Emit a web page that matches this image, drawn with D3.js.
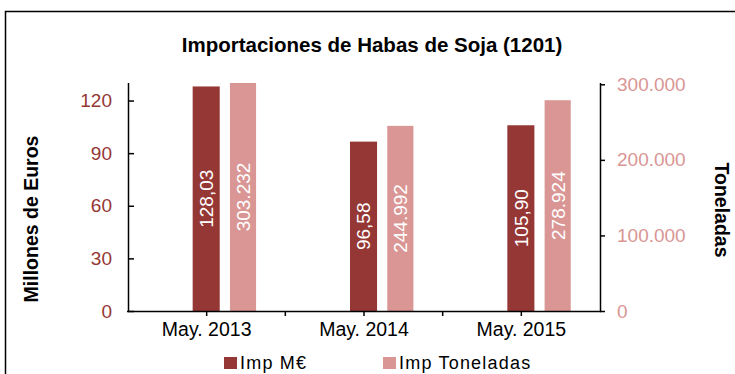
<!DOCTYPE html>
<html>
<head>
<meta charset="utf-8">
<script src="https://cdn.jsdelivr.net/npm/d3@7"></script>
<style>
  html, body { margin: 0; padding: 0; background: #fff; }
  svg { display: block; font-family: "Liberation Sans", Arial, sans-serif; }
</style>
</head>
<body>
<svg id="chart" width="735" height="374"></svg>
<script>
// Imports of soybeans (1201), May of each year
const categories = ["May. 2013", "May. 2014", "May. 2015"];
const impEuros = [128.03, 96.58, 105.90];          // millions of euros
const impToneladas = [303232, 244992, 278924];     // tonnes
const euroTicks = [0, 30, 60, 90, 120];
const tonTicks = [0, 100000, 200000, 300000];
const seriesNames = ["Imp M€", "Imp Toneladas"];

const darkRed = "#953735";
const lightRed = "#D99694";

const svg = d3.select("#chart");

// outer frame
svg.append("rect")
  .attr("x", 5.5).attr("y", 11.5)
  .attr("width", 800).attr("height", 400)
  .attr("fill", "none").attr("stroke", "#000").attr("stroke-width", 1.5);

const plot = { left: 128, right: 600, top: 83, bottom: 311 };

const x = d3.scaleBand().domain(categories).range([plot.left, plot.right]).padding(0);
const yL = d3.scaleLinear().domain([0, 130]).range([plot.bottom, plot.top]);
const yR = d3.scaleLinear().domain([0, 301700]).range([plot.bottom, plot.top]).clamp(true);

const bw = x.bandwidth();
const center = c => x(c) + bw / 2;
const darkX0 = -0.089 * bw, darkW = 0.172 * bw;
const lightX0 = 0.148 * bw, lightW = 0.166 * bw;

const esNum = d3.formatLocale({ decimal: ",", thousands: ".", grouping: [3], currency: ["", "€"] });
const fmtEuro = esNum.format(",.2f");
const fmtTon = esNum.format(",.0f");

// bars: millions of euros (left axis)
svg.append("g").selectAll("rect")
  .data(categories)
  .join("rect")
  .attr("x", (c) => center(c) + darkX0)
  .attr("width", darkW)
  .attr("y", (c, i) => yL(impEuros[i]))
  .attr("height", (c, i) => yL(0) - yL(impEuros[i]))
  .attr("fill", darkRed);

// bars: tonnes (right axis)
svg.append("g").selectAll("rect")
  .data(categories)
  .join("rect")
  .attr("x", (c) => center(c) + lightX0)
  .attr("width", lightW)
  .attr("y", (c, i) => yR(impToneladas[i]))
  .attr("height", (c, i) => yR(0) - yR(impToneladas[i]))
  .attr("fill", lightRed);

// value labels, rotated, centred in each bar
const labelFont = 19;
svg.append("g").selectAll("text")
  .data(categories)
  .join("text")
  .attr("transform", (c, i) => {
    const cx = center(c) + darkX0 + darkW / 2;
    const cy = (yL(impEuros[i]) + yL(0)) / 2;
    return `translate(${cx},${cy}) rotate(-90)`;
  })
  .attr("text-anchor", "middle").attr("dy", "0.36em")
  .attr("font-size", labelFont).attr("fill", "#fff")
  .text((c, i) => fmtEuro(impEuros[i]));

svg.append("g").selectAll("text")
  .data(categories)
  .join("text")
  .attr("transform", (c, i) => {
    const cx = center(c) + lightX0 + lightW / 2;
    const cy = (yR(impToneladas[i]) + yR(0)) / 2;
    return `translate(${cx},${cy}) rotate(-90)`;
  })
  .attr("text-anchor", "middle").attr("dy", "0.36em")
  .attr("font-size", labelFont).attr("fill", "#fff")
  .text((c, i) => fmtTon(impToneladas[i]));

// left axis
const gL = svg.append("g").attr("transform", `translate(${plot.left},0)`)
  .call(d3.axisRight(yL).tickValues(euroTicks).tickSize(6).tickFormat(d3.format("d")));
gL.select(".domain").attr("d", `M0.5,${plot.top}V${plot.bottom}`).attr("stroke", "#000").attr("stroke-width", 1.5);
gL.selectAll(".tick line").attr("stroke", "#000").attr("stroke-width", 1.5);
gL.selectAll(".tick text")
  .attr("x", -16).attr("text-anchor", "end")
  .attr("font-size", 19).attr("fill", darkRed)
  .attr("font-family", "Liberation Sans, Arial, sans-serif");

// right axis
const gR = svg.append("g").attr("transform", `translate(${plot.right},0)`)
  .call(d3.axisRight(yR).tickValues(tonTicks).tickSize(5).tickPadding(12).tickFormat(fmtTon));
gR.select(".domain").attr("d", `M0.5,${plot.top}V${plot.bottom}`).attr("stroke", "#000").attr("stroke-width", 1.5);
gR.selectAll(".tick line").attr("stroke", "#000").attr("stroke-width", 1.5);
gR.selectAll(".tick text")
  .attr("font-size", 19).attr("fill", lightRed)
  .attr("font-family", "Liberation Sans, Arial, sans-serif");

// bottom axis: category labels and ticks at centres and boundaries
const gB = svg.append("g").attr("transform", `translate(0,${plot.bottom})`)
  .call(d3.axisBottom(x).tickSize(5).tickPadding(6));
gB.select(".domain").attr("d", `M${plot.left - 1},0.5H${plot.right + 1}`).attr("stroke", "#000").attr("stroke-width", 1.5);
gB.selectAll(".tick line").attr("stroke", "#000").attr("stroke-width", 1.5);
gB.selectAll(".tick text")
  .attr("font-size", 19.5).attr("fill", "#000")
  .attr("font-family", "Liberation Sans, Arial, sans-serif");
gB.selectAll(".boundary")
  .data(categories.slice(1))
  .join("line")
  .attr("class", "boundary")
  .attr("x1", c => x(c)).attr("x2", c => x(c))
  .attr("y1", 0).attr("y2", 5)
  .attr("stroke", "#000").attr("stroke-width", 1.5);

// title
svg.append("text")
  .attr("x", 372).attr("y", 52)
  .attr("text-anchor", "middle")
  .attr("font-size", 20.5).attr("font-weight", "bold")
  .text("Importaciones de Habas de Soja (1201)");

// axis titles
svg.append("text")
  .attr("transform", `translate(38,219) rotate(-90)`)
  .attr("text-anchor", "middle")
  .attr("font-size", 19.5).attr("font-weight", "bold")
  .text("Millones de Euros");

svg.append("text")
  .attr("transform", `translate(715,210) rotate(90)`)
  .attr("text-anchor", "middle")
  .attr("font-size", 19.5).attr("font-weight", "bold")
  .text("Toneladas");

// legend
const legendX = [224, 383];
const legend = svg.append("g");
legend.selectAll("rect")
  .data(seriesNames)
  .join("rect")
  .attr("x", (d, i) => legendX[i]).attr("y", 357)
  .attr("width", 13).attr("height", 12)
  .attr("fill", (d, i) => i === 0 ? darkRed : lightRed);
legend.selectAll("text")
  .data(seriesNames)
  .join("text")
  .attr("x", (d, i) => legendX[i] + 16).attr("y", 368.5)
  .attr("font-size", 18).attr("letter-spacing", 1.2).attr("fill", "#000")
  .text(d => d);
</script>
</body>
</html>
